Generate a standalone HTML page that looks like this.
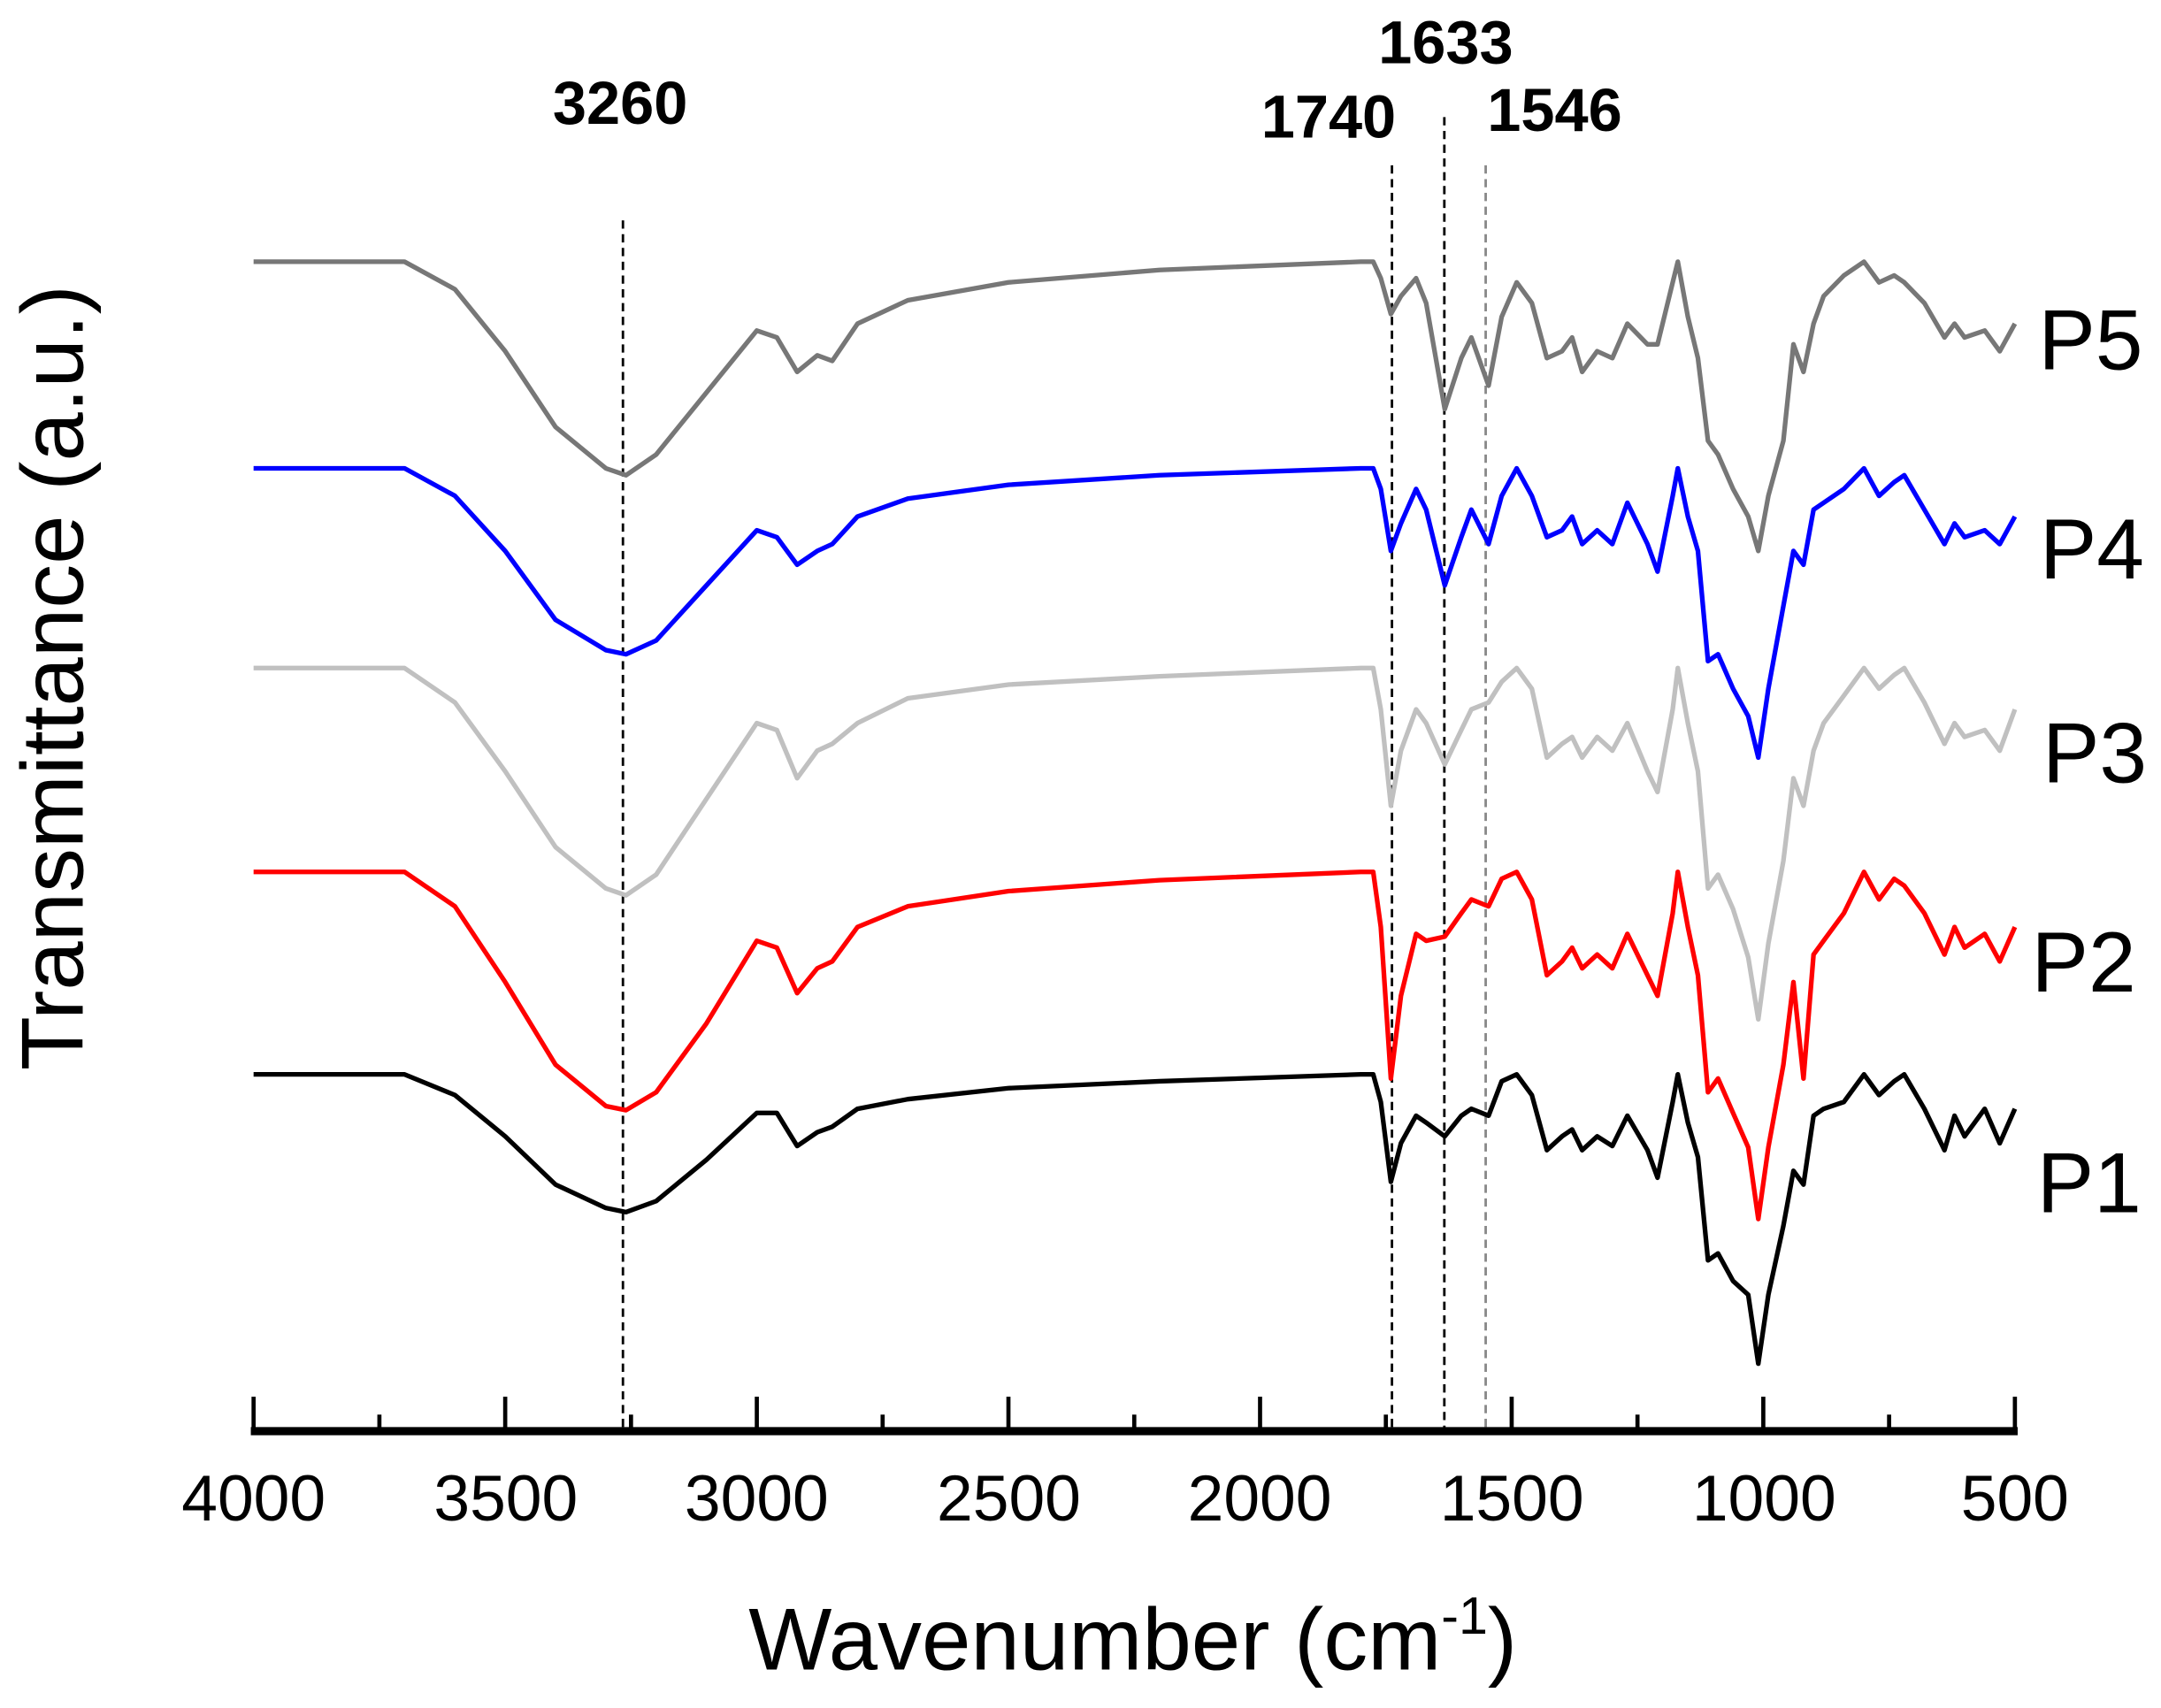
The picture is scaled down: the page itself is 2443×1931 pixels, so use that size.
<!DOCTYPE html>
<html><head><meta charset="utf-8"><style>
html,body{margin:0;padding:0;background:#fff;}
svg{display:block;}
text{font-family:"Liberation Sans",Arial,sans-serif;}
</style></head><body>
<svg id="s" width="2443" height="1931" viewBox="0 0 1568 1240" preserveAspectRatio="none" xmlns="http://www.w3.org/2000/svg">
<rect width="1568" height="1240" fill="#fff"/>
<g stroke="#000" stroke-width="1.8" stroke-dasharray="6,4" fill="none">
<line x1="452" y1="160" x2="452" y2="1038"/>
<line x1="1010" y1="120" x2="1010" y2="1038"/>
<line x1="1048" y1="85" x2="1048" y2="1038"/>
<line x1="1078" y1="120" x2="1078" y2="1038" stroke="#888"/>
</g>
<g id="curves" fill="none" stroke-width="3.4" stroke-linejoin="round"></g>
<g id="axis" stroke="#000" stroke-width="3"></g>
<line x1="182" y1="1039" x2="1464" y2="1039" stroke="#000" stroke-width="6"/>
<g font-size="47" text-anchor="middle" fill="#000">
<text x="184" y="1104">4000</text><text x="367" y="1104">3500</text><text x="549" y="1104">3000</text><text x="732" y="1104">2500</text><text x="914" y="1104">2000</text><text x="1097" y="1104">1500</text><text x="1280" y="1104">1000</text><text x="1462" y="1104">500</text>
</g>
<text x="822" y="1212" font-size="64" text-anchor="middle">Wavenumber (cm<tspan dy="-26" font-size="38">-1</tspan><tspan dy="26">)</tspan></text>
<text transform="translate(60,492) rotate(-90)" font-size="64" text-anchor="middle">Transmittance (a.u.)</text>
<g font-size="44" font-weight="bold" text-anchor="middle">
<text x="450" y="90">3260</text><text x="1049" y="46">1633</text><text x="964" y="100">1740</text><text x="1128" y="95">1546</text>
</g>
<g font-size="62">
<text x="1479" y="268">P5</text><text x="1480" y="420">P4</text><text x="1482" y="568">P3</text><text x="1474" y="720">P2</text><text x="1478" y="880">P1</text>
</g>
</svg>
<script>
var T=[[4000,0,0,0,0,0],[3700,0,0,0,0,0],[3600,15,25,25,20,20],[3500,45,80,75,60,65],[3400,80,140,130,110,120],[3300,97,170,160,132,150],[3260,100,173,165,135,155],[3200,92,160,150,125,140],[3100,62,110,95,85,95],[3000,28,50,40,45,50],[2960,28,55,45,50,55],[2920,52,88,80,70,80],[2880,42,70,60,60,68],[2850,38,65,55,55,72],[2800,25,40,40,35,45],[2700,18,25,22,22,28],[2500,10,14,12,12,15],[2200,5,6,6,5,6],[1800,0,0,0,0,0],[1775,0,0,0,0,0],[1760,20,40,30,15,12],[1740,78,150,100,60,38],[1720,50,90,60,40,25],[1690,30,45,30,15,12],[1670,35,50,40,30,30],[1633,45,47,70,85,107],[1600,30,30,45,50,70],[1580,25,20,30,30,55],[1546,30,25,25,55,90],[1520,5,5,10,20,40],[1490,0,0,0,0,15],[1460,15,20,15,20,30],[1430,55,75,65,50,70],[1400,45,65,55,45,65],[1380,40,55,50,35,55],[1360,55,70,65,55,80],[1330,45,60,50,45,65],[1300,52,70,60,55,70],[1270,30,45,40,25,45],[1230,55,75,75,55,60],[1210,75,90,90,75,60],[1180,20,30,30,20,15],[1170,0,0,0,0,0],[1150,35,40,40,35,40],[1130,60,75,75,60,70],[1110,135,160,160,140,130],[1090,130,150,150,135,140],[1060,150,175,175,160,165],[1030,160,200,210,180,185],[1010,210,252,255,210,210],[990,160,200,200,160,170],[960,110,140,140,100,130],[940,70,80,80,60,60],[920,80,150,100,70,80],[900,30,60,60,30,45],[880,25,50,40,25,25],[840,20,30,20,15,10],[800,0,0,0,0,0],[770,15,20,15,20,15],[740,5,5,5,10,10],[720,0,10,0,5,15],[680,25,30,25,30,30],[640,55,60,55,55,55],[620,30,40,40,40,45],[600,45,55,50,50,55],[560,25,45,45,45,50],[530,50,65,60,55,65],[500,25,40,30,35,45]];
var base=[780,633,485,340,190],col=["#000","#ff0000","#c0c0c0","#0000ff","#777"];
function X(w){return 184+(4000-w)*1278/3500;}
var g=document.getElementById("curves"),ns="http://www.w3.org/2000/svg";
for(var k=4;k>=0;k--){var d="";for(var i=0;i<T.length;i++){d+=(i?"L":"M")+X(T[i][0]).toFixed(1)+","+(base[k]+T[i][k+1]).toFixed(1);}
var p=document.createElementNS(ns,"path");p.setAttribute("d",d);p.setAttribute("stroke",col[k]);g.appendChild(p);}
var a=document.getElementById("axis");
for(var w=4000;w>=500;w-=250){var l=document.createElementNS(ns,"line");var x=X(w);l.setAttribute("x1",x);l.setAttribute("x2",x);l.setAttribute("y1",w%500==0?1014:1027);l.setAttribute("y2",1039);a.appendChild(l);}
</script>
</body></html>
